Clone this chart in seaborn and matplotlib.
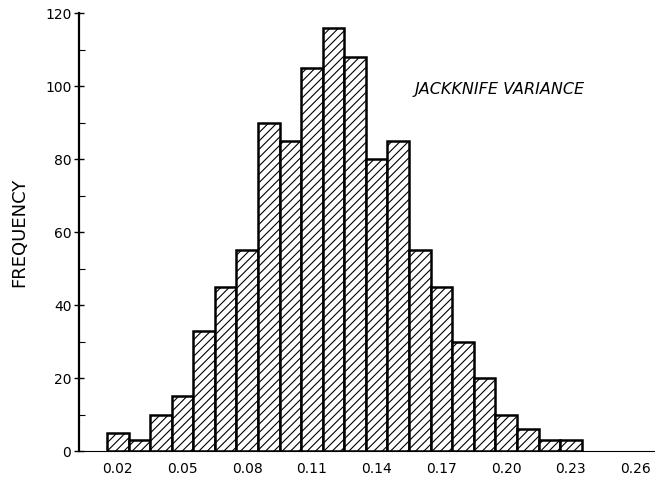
import matplotlib
matplotlib.use("Agg")
import matplotlib.pyplot as plt
import seaborn as sns
import numpy as np
from matplotlib.ticker import MultipleLocator

# Data (bin centres and counts)
bin_centers = [0.02, 0.03, 0.04, 0.05, 0.06, 0.07, 0.08, 0.09, 0.10, 0.11, 0.12,
               0.13, 0.14, 0.15, 0.16, 0.17, 0.18, 0.19, 0.20, 0.21, 0.22, 0.23]
frequencies = [5, 3, 10, 15, 33, 45, 55, 90, 85, 105, 116,
               108, 80, 85, 55, 45, 30, 20, 10, 6, 3, 3]
x_tick_values = [0.02, 0.05, 0.08, 0.11, 0.14, 0.17, 0.20, 0.23, 0.26]
x_tick_labels = ["0.02", "0.05", "0.08", "0.11", "0.14", "0.17", "0.20", "0.23", "0.26"]
y_tick_values = [0, 20, 40, 60, 80, 100, 120]
title_text = "JACKKNIFE VARIANCE"
y_label = "FREQUENCY"

sns.set_theme(style="white")
plt.rcParams["font.family"] = ["DejaVu Sans"]
plt.rcParams["hatch.linewidth"] = 0.8
plt.rcParams["hatch.color"] = "black"
plt.rcParams["text.color"] = "black"
plt.rcParams["axes.labelcolor"] = "black"
plt.rcParams["xtick.color"] = "black"
plt.rcParams["ytick.color"] = "black"

fig = plt.figure(figsize=(6.55, 4.84), dpi=100)
ax = fig.add_axes([0.1206, 0.068, 0.8794, 0.905])

sns.histplot(x=bin_centers, weights=frequencies, binwidth=0.01,
             binrange=(0.015, 0.235), ax=ax, color="white",
             edgecolor="black", linewidth=1.8, alpha=1.0)
for p in ax.patches:
    p.set_hatch("////")
    p.set_facecolor("white")

ax.set_xlim(0.002, 0.269)
ax.set_ylim(0, 120)

ax.set_xticks(x_tick_values)
ax.set_xticklabels(x_tick_labels, fontsize=10)
ax.set_yticks(y_tick_values)
ax.set_yticklabels([str(v) for v in y_tick_values], fontsize=10)
ax.yaxis.set_minor_locator(MultipleLocator(10))
ax.tick_params(axis="y", which="major", direction="inout", length=7, width=1.0,
               left=True, pad=2)
ax.tick_params(axis="y", which="minor", direction="in", length=4, width=0.8, left=True)
ax.tick_params(axis="x", which="both", length=0, pad=8)

for s in ["top", "right"]:
    ax.spines[s].set_visible(False)
ax.spines["left"].set_linewidth(1.6)
ax.spines["left"].set_color("black")
ax.spines["bottom"].set_linewidth(0.8)
ax.spines["bottom"].set_color("black")

ax.set_ylabel(y_label, fontsize=13, labelpad=12)
ax.set_xlabel("")

ax.text(0.1577, 99, title_text, fontsize=11.5, fontstyle="italic",
        ha="left", va="center")

fig.savefig("out.png", dpi=100)
